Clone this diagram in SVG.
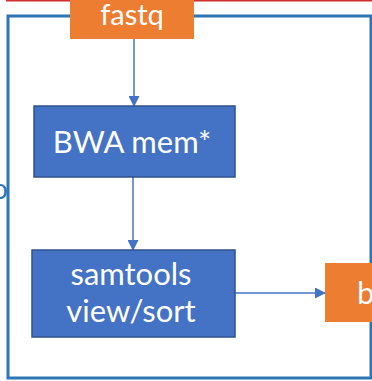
<svg xmlns="http://www.w3.org/2000/svg" width="372" height="381" viewBox="0 0 372 381">
<defs>
<style>
.lbl{font-family:Lato,"Open Sans",sans-serif;font-size:31px;fill:#FFFFFF;}
.blue{fill:#4472C4;stroke:#2F528F;stroke-width:1.5;}
.orange{fill:#ED7D31;}
.conn{stroke:#4472C4;stroke-width:1.5;fill:none;marker-end:url(#ah);}
</style>
<marker id="ah" markerWidth="11" markerHeight="11" refX="10" refY="5.5" orient="auto" markerUnits="userSpaceOnUse">
<path d="M0,0 L11,5.5 L0,11 z" fill="#4472C4"/>
</marker>
</defs>
<rect width="372" height="381" fill="#FFFFFF"/>
<line x1="6" y1="0.5" x2="372" y2="0.5" stroke="#D32F2F" stroke-width="2"/>
<rect id="frame" x="8" y="16" width="363" height="362" fill="none" stroke="#2E75B6" stroke-width="3"/>
<text x="-8" y="199" font-family="Lato,sans-serif" font-size="28" fill="#2E75B6">o</text>
<g id="connectors">
<line class="conn" x1="134" y1="39" x2="134" y2="106"/>
<line class="conn" x1="133" y1="177" x2="133" y2="250"/>
<line class="conn" x1="235" y1="293" x2="325" y2="293"/>
</g>
<g id="fastq">
<rect class="orange" x="70" y="0" width="124" height="39"/>
<text class="lbl" x="132" y="25" text-anchor="middle" style="font-size:29px">fastq</text>
</g>
<g id="bwa">
<rect class="blue" x="34" y="106" width="201" height="71"/>
<text class="lbl" x="132" y="153" text-anchor="middle">BWA mem*</text>
</g>
<g id="samtools">
<rect class="blue" x="32" y="250" width="203" height="87"/>
<text class="lbl" x="131" y="285" text-anchor="middle">samtools</text>
<text class="lbl" x="131" y="322" text-anchor="middle">view/sort</text>
</g>
<g id="bam">
<rect class="orange" x="325" y="263" width="47" height="59"/>
<text class="lbl" x="357" y="304">b</text>
</g>
</svg>
